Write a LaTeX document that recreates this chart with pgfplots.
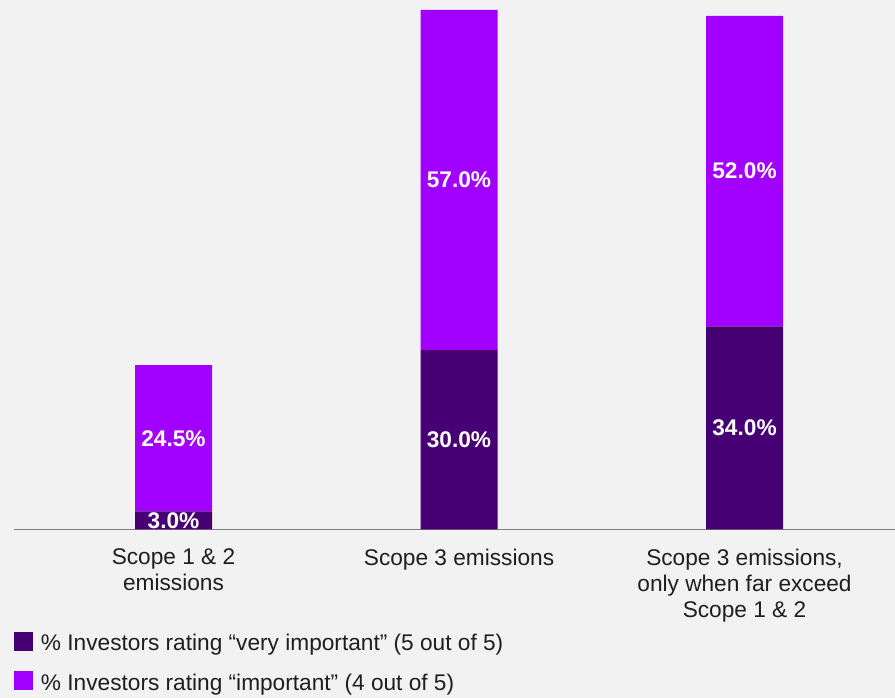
\documentclass[border=0pt]{standalone}
\usepackage{pgfplots}
\pgfplotsset{compat=1.18}
\usepackage{fontspec}
\setmainfont{Liberation Sans}
\definecolor{bgc}{HTML}{F2F2F2}
\definecolor{darkp}{HTML}{460073}
\definecolor{brightp}{HTML}{A100FF}
\definecolor{txt}{HTML}{1E1E1E}
\definecolor{axisgray}{HTML}{808080}
\begin{document}
\begin{tikzpicture}
\fill[bgc] (-10.5pt,-126.5pt) rectangle (660.75pt,397pt);
\useasboundingbox (-10.5pt,-126.5pt) rectangle (660.75pt,397pt);
\begin{axis}[
  at={(0,0)}, anchor=south west,
  scale only axis, width=660.75pt, height=397pt,
  ybar stacked, bar width=57.75pt,
  xmin=-0.5587, xmax=2.5271, ymin=0, ymax=88.67,
  axis x line*=bottom, axis y line=none,
  x axis line style={axisgray, line width=0.9pt, -},
  xtick=data, xticklabels={{Scope 1 \& 2\\emissions},{Scope 3 emissions},{Scope 3 emissions,\\only when far exceed\\Scope 1 \& 2}},
  major tick length=0pt,
  xticklabel style={align=center, font=\fontsize{17}{19.5}\selectfont, text=txt, yshift=-11pt},
  legend style={at={(0,0)}, anchor=north west, yshift=-77pt, draw=none, fill=none, inner sep=0pt, outer sep=0pt,
    nodes={inner sep=0pt, text height=12pt, text depth=4pt, font=\fontsize{17}{19.5}\selectfont, text=txt},
    column sep=6pt, row sep=11pt},
  legend cell align=left,
  legend image code/.code={\fill[#1, draw=none] (0pt,-4pt) rectangle (14.25pt,10.25pt);},
]
\addplot[fill=darkp, draw=none] coordinates {(0,3.0) (1,30.0) (2,34.0)};
\addlegendentry{\% Investors rating “very important” (5 out of 5)}
\addplot[fill=brightp, draw=none] coordinates {(0,24.5) (1,57.0) (2,52.0)};
\addlegendentry{\% Investors rating “important” (4 out of 5)}
\end{axis}
\begin{axis}[
  at={(0,0)}, anchor=south west,
  scale only axis, width=660.75pt, height=397pt,
  xmin=-0.5587, xmax=2.5271, ymin=0, ymax=88.67,
  hide axis, clip=false,
]
\addplot[draw=none, mark=none, point meta=explicit,
  nodes near coords={\pgfmathprintnumber[fixed, fixed zerofill, precision=1, assume math mode=true]{\pgfplotspointmeta}\%},
  nodes near coords style={anchor=center, text=white, font=\fontsize{17}{19.5}\selectfont\bfseries}]
  table[meta=v] {
x y v
0 1.5 3.0
0 15.25 24.5
1 15 30.0
1 58.5 57.0
2 17 34.0
2 60 52.0
};
\end{axis}
\end{tikzpicture}
\end{document}
